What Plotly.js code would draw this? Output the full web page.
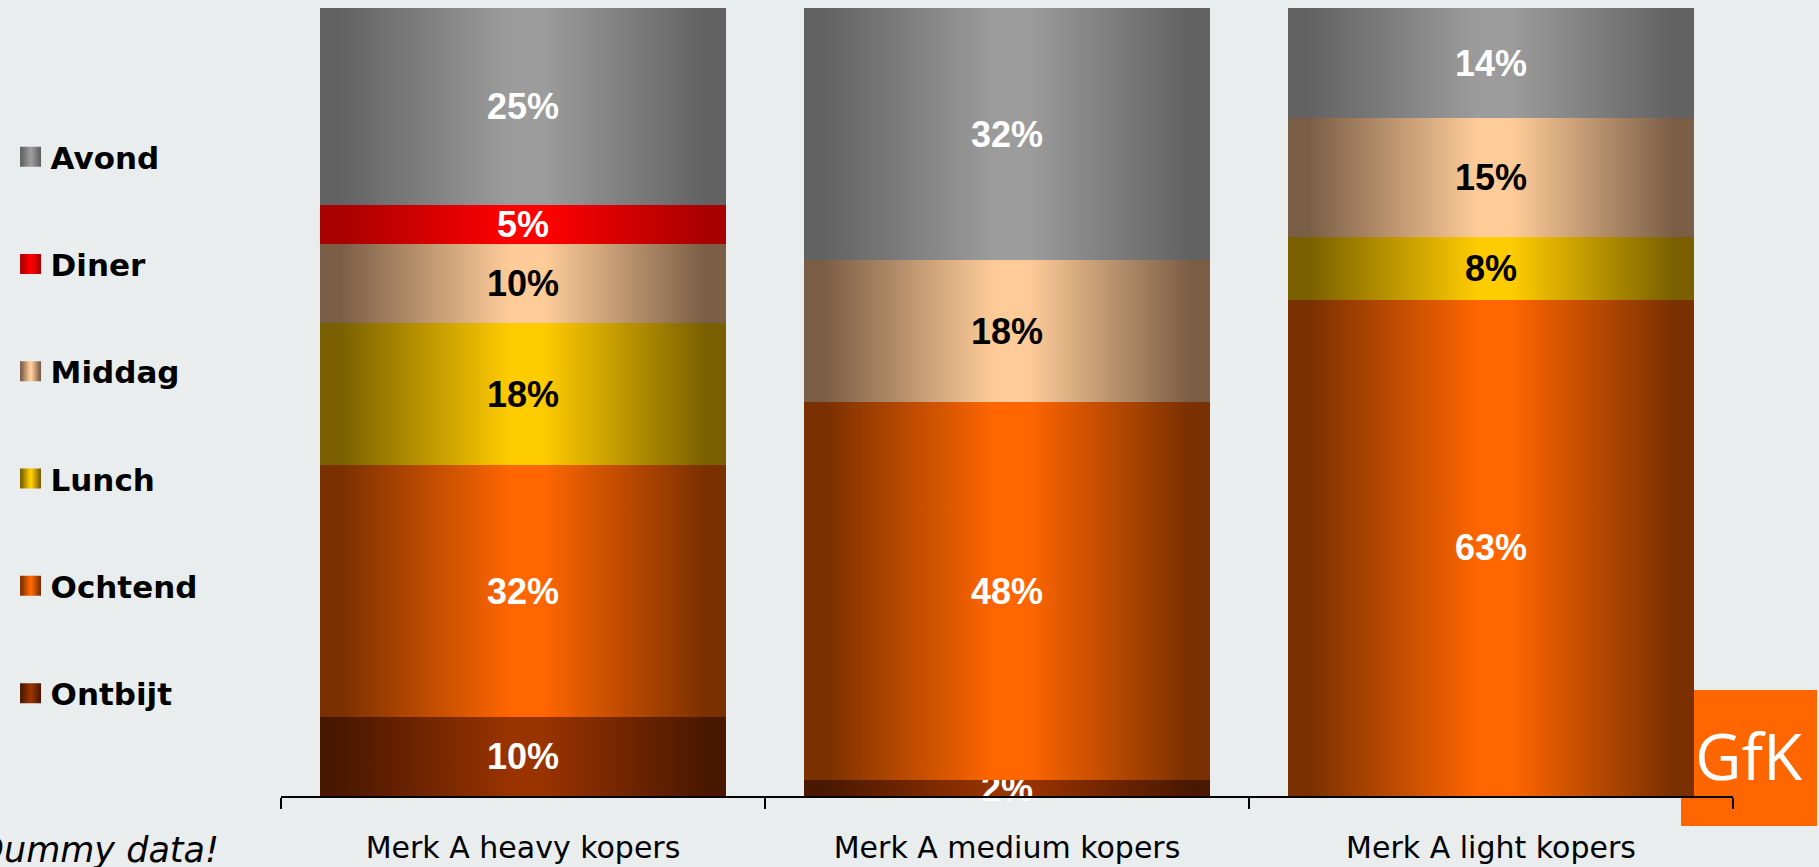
<!DOCTYPE html>
<html>
<head>
<meta charset="utf-8">
<script src="https://cdn.plot.ly/plotly-3.0.1.min.js"></script>
<style>
  html, body { margin: 0; padding: 0; background: #e9edee; }
  #chart { width: 1819px; height: 867px; }
</style>
</head>
<body>
<div id="chart"></div>
<script>
// ---- data ----
const categories = ["Merk A heavy kopers", "Merk A medium kopers", "Merk A light kopers"];
const seriesNames = ["Ontbijt", "Ochtend", "Lunch", "Middag", "Diner", "Avond"];
const ontbijt = [10, 2, 0];
const ochtend = [32, 48, 63];
const lunch   = [18, 0, 8];
const middag  = [10, 18, 15];
const diner   = [5, 0, 0];
const avond   = [25, 32, 14];
const seriesValues = [ontbijt, ochtend, lunch, middag, diner, avond];

// ---- styles ----
const gradEdge   = ["#4a1800", "#7a3000", "#7a6000", "#7a5e46", "#a80000", "#626262"];
const gradCenter = ["#993300", "#ff6600", "#ffcc00", "#ffcc99", "#ff0000", "#9c9c9c"];
const textColors = ["#ffffff", "#ffffff", "#000000", "#000000", "#ffffff", "#ffffff"];

const traces = seriesNames.map((name, i) => ({
  type: "bar",
  name: name,
  x: categories,
  y: seriesValues[i],
  text: seriesValues[i].map(v => v > 0 ? v + "%" : ""),
  textposition: "inside",
  insidetextanchor: "middle",
  constraintext: "none",
  cliponaxis: false,
  textfont: { family: "Liberation Sans, Arial, sans-serif", size: 36, weight: "bold", color: textColors[i] },
  marker: { color: gradCenter[i], line: { width: 0 } },
  legendgroup: "g" + i,
  legendrank: 1000 + (seriesNames.length - i),
  hoverinfo: "skip"
}));

const L = 281, R = 86, T = 8, B = 71, W = 1819, H = 867;
const pw = W - L - R, ph = H - T - B;
const px = x => (x - L) / pw;
const py = y => (H - B - y) / ph;

const layout = {
  width: W, height: H, autosize: false,
  margin: { l: L, r: R, t: T, b: B, pad: 0 },
  paper_bgcolor: "#e9edee",
  plot_bgcolor: "rgba(0,0,0,0)",
  barmode: "stack",
  bargap: 0.163,
  showlegend: true,
  legend: {
    xref: "container", yref: "container",
    x: 0.0058, xanchor: "left",
    y: 1 - 130 / H, yanchor: "top",
    traceorder: "grouped",
    tracegroupgap: 64,
    maxheight: 1,
    bgcolor: "rgba(0,0,0,0)",
    font: { family: "DejaVu Sans, sans-serif", size: 31, weight: "bold", color: "#000" },
    itemclick: false, itemdoubleclick: false
  },
  xaxis: {
    type: "category",
    showline: true, linecolor: "#000", linewidth: 2,
    ticks: "outside", tickson: "boundaries", ticklen: 11, tickwidth: 2, tickcolor: "#000",
    ticklabelstandoff: 24,
    tickfont: { family: "DejaVu Sans, sans-serif", size: 30, color: "#000" },
    showgrid: false, zeroline: false
  },
  yaxis: { range: [0, 100], visible: false, fixedrange: true },
  shapes: [{
    type: "rect", xref: "paper", yref: "paper", layer: "below",
    x0: px(1681), x1: px(1817), y0: py(826), y1: py(690),
    fillcolor: "#ff6600", line: { width: 0 }
  }],
  annotations: [
    {
      xref: "paper", yref: "paper", x: px(1749), y: py(755),
      xanchor: "center", yanchor: "middle", showarrow: false,
      text: "GfK",
      font: { family: "Open Sans, sans-serif", size: 64, color: "#ffffff" }
    },
    {
      xref: "paper", yref: "paper", x: px(221), y: py(850),
      xanchor: "right", yanchor: "middle", showarrow: false,
      text: "Dummy data!",
      font: { family: "DejaVu Sans, sans-serif", size: 35, style: "italic", color: "#000" }
    }
  ]
};

function applyGradients() {
  const gd = document.getElementById("chart");
  const svg = gd.querySelector("svg.main-svg");
  if (!svg) return;
  let defs = svg.querySelector("defs");
  if (!defs) { defs = document.createElementNS("http://www.w3.org/2000/svg", "defs"); svg.insertBefore(defs, svg.firstChild); }
  seriesNames.forEach((n, i) => {
    const id = "hgrad" + i;
    if (document.getElementById(id)) return;
    const g = document.createElementNS("http://www.w3.org/2000/svg", "linearGradient");
    g.setAttribute("id", id);
    g.setAttribute("x1", "0"); g.setAttribute("x2", "1");
    g.setAttribute("y1", "0"); g.setAttribute("y2", "0");
    [[0, gradEdge[i]], [0.05, gradEdge[i]], [0.47, gradCenter[i]], [0.55, gradCenter[i]], [0.95, gradEdge[i]], [1, gradEdge[i]]].forEach(([o, c]) => {
      const s = document.createElementNS("http://www.w3.org/2000/svg", "stop");
      s.setAttribute("offset", o); s.setAttribute("stop-color", c);
      g.appendChild(s);
    });
    defs.appendChild(g);
  });
  gd.querySelectorAll(".barlayer .trace").forEach(tr => {
    const d = tr.__data__;
    const idx = d && d[0] && d[0].trace ? d[0].trace.index : null;
    if (idx === null) return;
    tr.querySelectorAll(".point path").forEach(p => { p.style.fill = "url(#hgrad" + idx + ")"; });
  });
  gd.querySelectorAll(".legend .traces").forEach(tr => {
    const d = tr.__data__;
    const idx = d && d[0] && d[0].trace ? d[0].trace.index : null;
    if (idx === null) return;
    tr.querySelectorAll(".legendpoints path").forEach(p => {
      p.setAttribute("d", "M10.5,10H-10.5V-10H10.5Z");
      p.style.fill = "url(#hgrad" + idx + ")";
      p.style.stroke = "none";
    });
  });
}

Plotly.newPlot("chart", traces, layout, { displayModeBar: false, staticPlot: true }).then(gd => {
  applyGradients();
  gd.on("plotly_afterplot", applyGradients);
});
</script>
</body>
</html>
